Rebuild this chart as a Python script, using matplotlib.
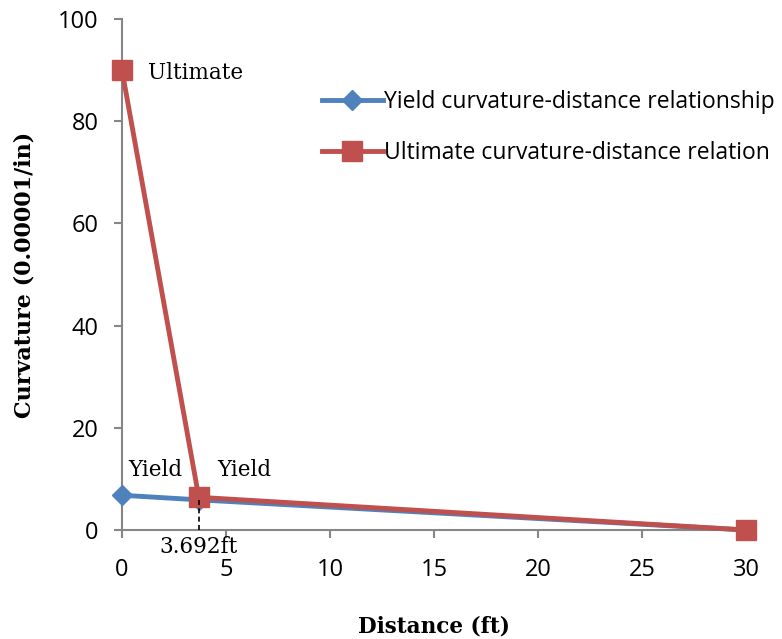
import matplotlib.pyplot as plt

# data
distance = [0, 3.692, 30]
yield_curv = [6.8, 5.9, 0]
ultimate_curv = [90, 6.4, 0]

blue = "#4F81BD"
red = "#C0504D"
axis_grey = "#868686"

fig = plt.figure(figsize=(7.82, 6.39), dpi=100)
ax = fig.add_axes([0.156, 0.1706, 0.798, 0.7994])

ax.plot(distance, yield_curv, color=blue, linewidth=3.5, marker="D",
        markersize=10, label="Yield curvature-distance relationship",
        clip_on=False, zorder=3)
ax.plot(distance, ultimate_curv, color=red, linewidth=3.5, marker="s",
        markersize=14, label="Ultimate curvature-distance relation",
        clip_on=False, zorder=4)

# dashed marker at the yield distance
ax.plot([distance[1], distance[1]], [0, ultimate_curv[1]], color="black",
        linestyle=(0, (3, 2)), linewidth=1.2, zorder=5)

serif = "DejaVu Serif"
ax.text(1.25, 89.5, "Ultimate", fontsize=15.5, family=serif, va="center")
ax.text(0.3, 11.7, "Yield", fontsize=15.5, family=serif, va="center")
ax.text(4.6, 11.7, "Yield", fontsize=15.5, family=serif, va="center")
ax.text(distance[1], -3.3, "3.692ft", fontsize=15.5, family=serif,
        ha="center", va="center", clip_on=False)

ax.set_xlim(0, 30)
ax.set_ylim(0, 100)
ax.set_xticks(range(0, 31, 5))
ax.set_yticks(range(0, 101, 20))

for s in ["top", "right"]:
    ax.spines[s].set_visible(False)
for s in ["left", "bottom"]:
    ax.spines[s].set_color(axis_grey)
    ax.spines[s].set_linewidth(1.5)

ax.tick_params(colors=axis_grey, width=1.5, length=6, labelsize=17,
               labelcolor="black")
ax.tick_params(axis="x", pad=14.5)
ax.tick_params(axis="y", pad=11)
for lab in ax.get_xticklabels() + ax.get_yticklabels():
    lab.set_family("Open Sans")

ax.set_xlabel("Distance (ft)", fontsize=15.5, fontweight="bold", family=serif,
              labelpad=24)
ax.set_ylabel("Curvature (0.00001/in)", fontsize=16, fontweight="bold",
              family=serif, labelpad=16)

leg = ax.legend(loc="upper left", bbox_to_anchor=(0.3205, 0.862),
                frameon=False, borderpad=0, borderaxespad=0,
                prop={"family": "Open Sans", "size": 16.5}, handlelength=2.66,
                handletextpad=0.05, labelspacing=1.18)

plt.savefig("out.png", dpi=100)
plt.close()
